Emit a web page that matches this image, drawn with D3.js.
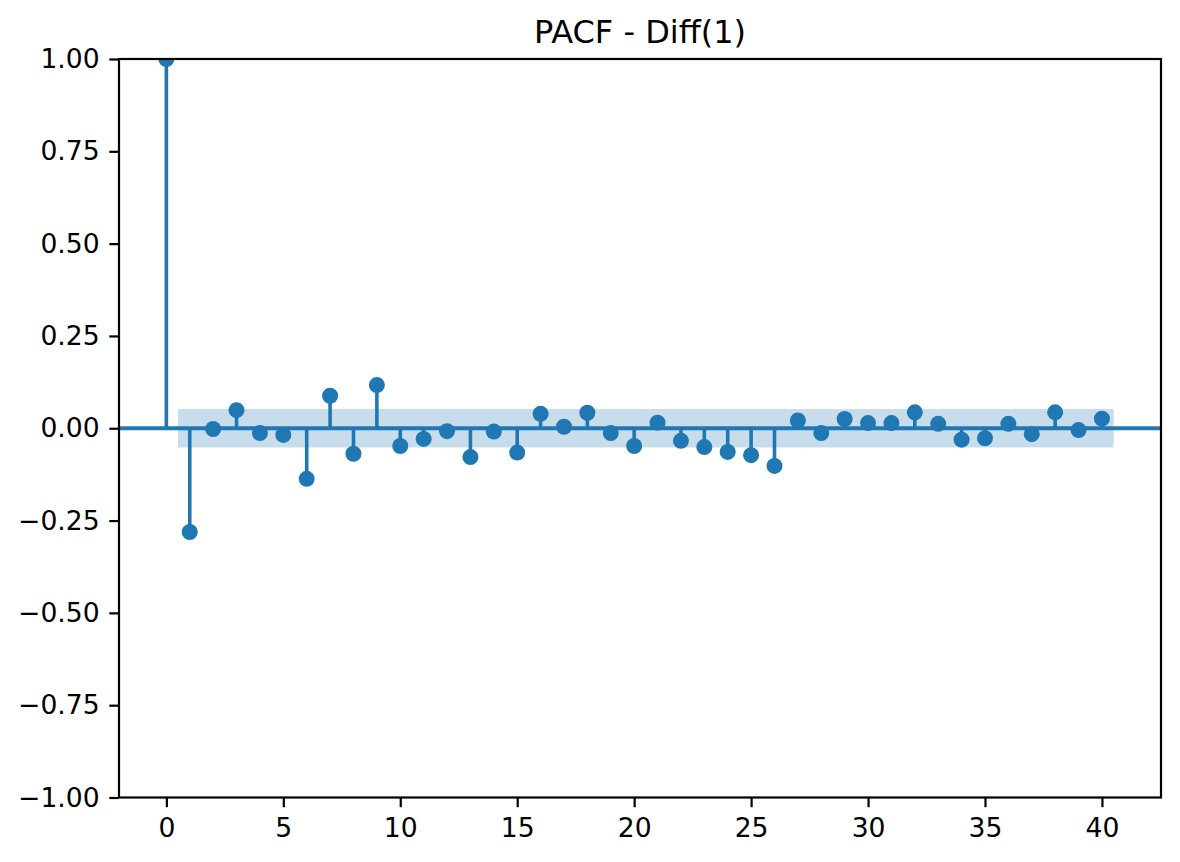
<!DOCTYPE html>
<html>
<head>
<meta charset="utf-8">
<script src="https://cdn.jsdelivr.net/npm/d3@7"></script>
<style>
  html, body { margin: 0; padding: 0; background: #fff; }
  svg { display: block; }
  text { font-family: "DejaVu Sans", sans-serif; fill: #000; }
</style>
</head>
<body>
<svg id="chart" width="1180" height="862"></svg>
<script>
const lags = d3.range(0, 41);
const pacfValues = [
  1.000, -0.281, -0.002, 0.049, -0.013, -0.018, -0.137, 0.088, -0.069, 0.117,
  -0.048, -0.029, -0.008, -0.078, -0.009, -0.066, 0.039, 0.004, 0.042, -0.013,
  -0.048, 0.015, -0.034, -0.051, -0.064, -0.073, -0.102, 0.021, -0.013, 0.025,
  0.014, 0.014, 0.043, 0.012, -0.031, -0.027, 0.012, -0.016, 0.043, -0.005,
  0.026
];
const confBound = 0.052;
const bandRange = [0.5, 40.5];
const yTicks = [-1, -0.75, -0.5, -0.25, 0, 0.25, 0.5, 0.75, 1];
const xTicks = [0, 5, 10, 15, 20, 25, 30, 35, 40];
const chartTitle = "PACF - Diff(1)";

const color = "#1f77b4";
const svg = d3.select("#chart");
const mLeft = 119, mRight = 1161, mTop = 59, mBottom = 797.5;

const x = d3.scaleLinear().domain([-2.025, 42.525]).range([mLeft, mRight]);
const y = d3.scaleLinear().domain([-1, 1]).range([mBottom, mTop]);

const fmt = v => d3.format(".2f")(v).replace("-", "\u2212");

svg.append("defs").append("clipPath").attr("id", "clip")
  .append("rect").attr("x", mLeft).attr("y", mTop).attr("width", mRight - mLeft).attr("height", mBottom - mTop);

const plot = svg.append("g").attr("clip-path", "url(#clip)");

// confidence band
plot.append("rect")
  .attr("x", x(bandRange[0]))
  .attr("width", x(bandRange[1]) - x(bandRange[0]))
  .attr("y", y(confBound))
  .attr("height", y(-confBound) - y(confBound))
  .attr("fill", color).attr("fill-opacity", 0.25);

// zero line
plot.append("line")
  .attr("x1", mLeft).attr("x2", mRight)
  .attr("y1", y(0)).attr("y2", y(0))
  .attr("stroke", color).attr("stroke-width", 4);

// stems
plot.selectAll("line.stem").data(lags).enter().append("line")
  .attr("class", "stem")
  .attr("x1", d => x(d)).attr("x2", d => x(d))
  .attr("y1", y(0)).attr("y2", d => y(pacfValues[d]))
  .attr("stroke", color).attr("stroke-width", 3.6);

// markers
plot.selectAll("circle").data(lags).enter().append("circle")
  .attr("cx", d => x(d)).attr("cy", d => y(pacfValues[d]))
  .attr("r", 8).attr("fill", color);

// axes
const tickSize = 9.7, tickPad = 9.7, fontSize = 26.6;
const yAxis = svg.append("g").attr("transform", `translate(${mLeft},0)`)
  .call(d3.axisLeft(y).tickValues(yTicks).tickFormat(fmt).tickSize(tickSize).tickPadding(tickPad));
const xAxis = svg.append("g").attr("transform", `translate(0,${mBottom})`)
  .call(d3.axisBottom(x).tickValues(xTicks).tickFormat(d3.format("d")).tickSize(tickSize).tickPadding(tickPad));

[xAxis, yAxis].forEach(g => {
  g.select(".domain").remove();
  g.selectAll(".tick line").attr("stroke", "#000").attr("stroke-width", 2.2);
  g.selectAll(".tick text").attr("font-size", fontSize).attr("font-family", "DejaVu Sans").attr("fill", "#000");
});
xAxis.selectAll(".tick text").attr("dy", "0.76em");

// spines
svg.append("rect")
  .attr("x", mLeft).attr("y", mTop).attr("width", mRight - mLeft).attr("height", mBottom - mTop)
  .attr("fill", "none").attr("stroke", "#000").attr("stroke-width", 2.2);

// title
svg.append("text")
  .attr("x", (mLeft + mRight) / 2).attr("y", 43)
  .attr("text-anchor", "middle")
  .attr("font-size", 32)
  .text(chartTitle);
</script>
</body>
</html>
